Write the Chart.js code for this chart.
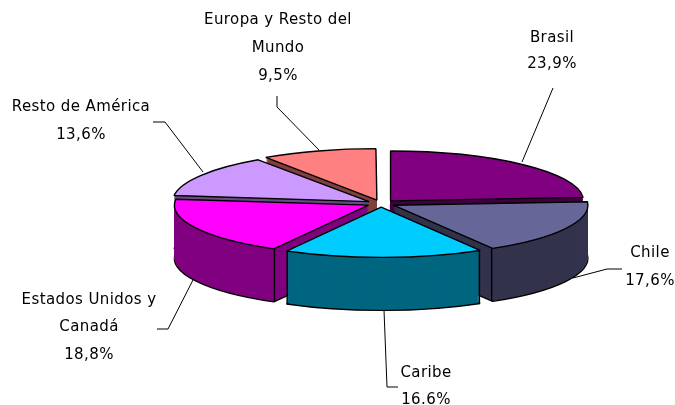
<!DOCTYPE html>
<html>
<head>
<meta charset="utf-8">
<style>html,body{margin:0;padding:0;background:#fff}canvas{display:block}</style>
<script src="https://cdn.jsdelivr.net/npm/chart.js@4"></script>
</head>
<body>
<canvas id="c" width="675" height="405"></canvas>
<script>
const categories = ["Brasil","Chile","Caribe","Estados Unidos y Canadá","Resto de América","Europa y Resto del Mundo"];
const shares = [23.9,17.6,16.6,18.8,13.6,9.5];
const valueLabels = ["23,9%","17,6%","16.6%","18,8%","13,6%","9,5%"];
const topColors = ["#800080","#666699","#00CCFF","#FF00FF","#CC99FF","#FF8080"];
const sideColors = ["#400040","#33334D","#006680","#800080","#664D80","#804040"];

const TILT = 0.258, DEPTH = 53;
const FONT = '15px "DejaVu Sans"';

const labelLayout = [
  {lines:["Brasil","23,9%"], x:552, y:[38,64], leader:[[553,88],[522,162]]},
  {lines:["Chile","17,6%"], x:650, y:[253,281], leader:[[573,278],[607,269],[622,269]]},
  {lines:["Caribe","16.6%"], x:426, y:[373,400], leader:[[384,310],[387,387],[398,387]]},
  {lines:["Estados Unidos y","Canadá","18,8%"], x:89, y:[300,327,355], leader:[[193,280],[168,329],[157,329]]},
  {lines:["Resto de América","13,6%"], x:81, y:[107,135], leader:[[153,122],[165,122],[203,172]]},
  {lines:["Europa y Resto del","Mundo","9,5%"], x:278, y:[20,48,76], leader:[[277,96],[277,107],[319,150]]}
];

const pie3d = {
  id:'pie3d',
  beforeDatasetDraw(chart, args){
    const ctx = chart.ctx, els = args.meta.data;
    const nativeStroke = ctx.stroke;
    // keep outlines at an even width although the disc is squashed
    ctx.stroke = function(){
      const t = ctx.getTransform();
      ctx.setTransform(1,0,0,1,0,0);
      nativeStroke.call(ctx);
      ctx.setTransform(t);
    };
    const cy = els[0].y;
    const at = d => ctx.setTransform(1,0,0,TILT,0,cy + d - cy*TILT);
    const ghost = (el, extra) => { const g = Object.create(el); g.options = Object.assign({}, el.options, extra); return g; };
    const order = els.map((el,i)=>i).sort((a,b)=>{
      const m = e => Math.sin((e.startAngle+e.endAngle)/2);
      return m(els[a]) - m(els[b]);
    });
    ctx.save();
    ctx.lineJoin = 'round';
    for (const i of order){
      const el = els[i], side = sideColors[i];
      at(DEPTH);
      ghost(el,{backgroundColor:side, borderColor:'#000', borderWidth:1.4}).draw(ctx);
      const fill = ghost(el,{backgroundColor:side, borderWidth:0});
      for (let d = DEPTH-1; d >= 1; d--){ at(d); fill.draw(ctx); }
      // vertical edges at the front corners
      ctx.setTransform(1,0,0,1,0,0);
      const off = el.options.offset/4, R = el.outerRadius, mid = (el.startAngle+el.endAngle)/2;
      ctx.strokeStyle = '#000'; ctx.lineWidth = 1.4;
      for (const a of [el.startAngle, el.endAngle]){
        if (Math.sin(a) > 0.3){
          const x = el.x + off*Math.cos(mid) + R*Math.cos(a);
          const y = cy + TILT*(off*Math.sin(mid) + R*Math.sin(a));
          ctx.beginPath(); ctx.moveTo(x,y); ctx.lineTo(x,y+DEPTH); ctx.stroke();
        }
      }
      at(0);
      ghost(el,{borderColor:'#000', borderWidth:1.4}).draw(ctx);
    }
    ctx.restore();
    ctx.setTransform(1,0,0,1,0,0);
    delete ctx.stroke;
    return false;
  },
  afterDraw(chart){
    const ctx = chart.ctx;
    ctx.save();
    ctx.strokeStyle = '#000'; ctx.lineWidth = 1;
    ctx.fillStyle = '#000'; ctx.font = FONT; ctx.letterSpacing = '0.4px';
    ctx.textAlign = 'center'; ctx.textBaseline = 'middle';
    for (const l of labelLayout){
      ctx.beginPath();
      l.leader.forEach((p,i)=> i ? ctx.lineTo(p[0],p[1]) : ctx.moveTo(p[0],p[1]));
      ctx.stroke();
      l.lines.forEach((t,i)=> ctx.fillText(t,l.x,l.y[i]));
    }
    ctx.restore();
  }
};

new Chart(document.getElementById('c'),{
  type:'pie',
  data:{labels:categories,datasets:[{data:shares,backgroundColor:topColors,borderWidth:0,offset:56}]},
  options:{
    responsive:false,animation:false,radius:193,
    layout:{padding:{left:87,top:2}},
    plugins:{legend:{display:false},tooltip:{enabled:false}}
  },
  plugins:[pie3d]
});
</script>
</body>
</html>
